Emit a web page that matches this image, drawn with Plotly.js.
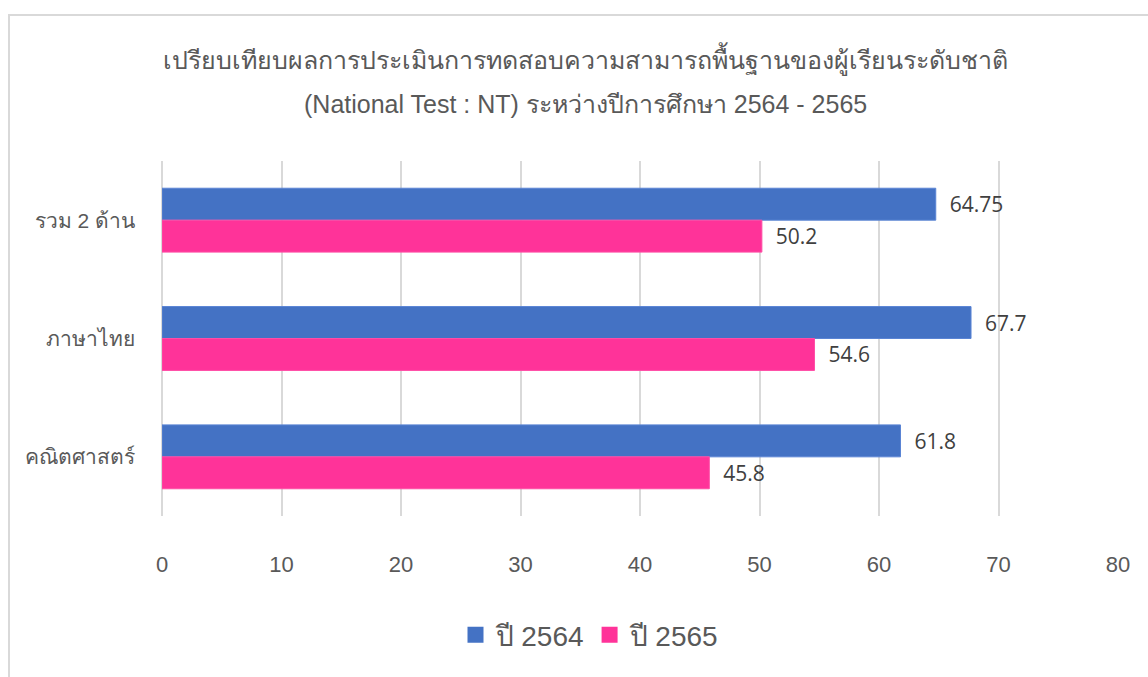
<!DOCTYPE html>
<html>
<head>
<meta charset="utf-8">
<script src="https://cdn.plot.ly/plotly-3.0.1.min.js"></script>
<style>html,body{margin:0;padding:0;background:#fff;}#chart{width:1148px;height:677px;}</style>
</head>
<body>
<div id="chart"></div>
<script>
const categories = ['รวม 2 ด้าน', 'ภาษาไทย', 'คณิตศาสตร์'];
const seriesNames = ['ปี 2564', 'ปี 2565'];
const seriesColors = ['#4472C4', '#FF3399'];
const values2564 = [64.75, 67.7, 61.8];
const values2565 = [50.2, 54.6, 45.8];
const xTicks = [0, 10, 20, 30, 40, 50, 60, 70, 80];
const titleLine1 = 'เปรียบเทียบผลการประเมินการทดสอบความสามารถพื้นฐานของผู้เรียนระดับชาติ';
const titleLine2 = '(National Test : NT) ระหว่างปีการศึกษา 2564 - 2565';

const labelFont = {family: 'Open Sans, Noto Sans, sans-serif', size: 21, color: '#404040'};

const traces = [
  {type: 'bar', orientation: 'h', name: seriesNames[0], y: categories, x: values2564,
   marker: {color: seriesColors[0], line: {color: '#5a84d4', width: 1}},
   text: values2564.map(v => '\u00a0\u00a0' + v), textposition: 'outside', cliponaxis: false,
   textfont: labelFont, hoverinfo: 'x+name', showlegend: false},
  {type: 'bar', orientation: 'h', name: seriesNames[1], y: categories, x: values2565,
   marker: {color: seriesColors[1], line: {color: '#ff4da6', width: 1}},
   text: values2565.map(v => '\u00a0\u00a0' + v), textposition: 'outside', cliponaxis: false,
   textfont: labelFont, hoverinfo: 'x+name', showlegend: false},
  // legend-only entries with larger square swatches
  {type: 'scatter', mode: 'markers', name: seriesNames[0], x: [null], y: [null],
   marker: {symbol: 'square', size: 24, color: seriesColors[0]}, hoverinfo: 'skip'},
  {type: 'scatter', mode: 'markers', name: seriesNames[1], x: [null], y: [null],
   marker: {symbol: 'square', size: 24, color: seriesColors[1]}, hoverinfo: 'skip'}
];

const L = 162, R = 30, T = 161, B = 161, W = 1148, H = 677;
const pw = W - L - R, ph = H - T - B;
const px = p => (p - L) / pw;
const py = p => (H - B - p) / ph;

const layout = {
  width: W, height: H,
  margin: {l: L, r: R, t: T, b: B, pad: 0},
  paper_bgcolor: '#ffffff', plot_bgcolor: '#ffffff',
  font: {family: 'Liberation Sans, Arial, sans-serif', color: '#595959'},
  title: {text: titleLine1, font: {size: 25, color: '#595959'},
          x: 585 / W, xanchor: 'center', xref: 'container',
          y: 1 - 60 / H, yanchor: 'middle', yref: 'container'},
  annotations: [
    {text: titleLine2, xref: 'paper', yref: 'paper', x: px(585), y: py(104),
     xanchor: 'center', yanchor: 'middle', showarrow: false,
     font: {size: 25, color: '#595959'}}
  ],
  barmode: 'group', bargap: 0.46, bargroupgap: 0,
  showlegend: true,
  legend: {orientation: 'h', x: px(590), xanchor: 'center', y: py(635), yanchor: 'middle',
           font: {size: 28, color: '#595959'}, traceorder: 'normal', itemsizing: 'trace'},
  xaxis: {range: [0, 80], tickvals: xTicks, ticktext: xTicks.map(String),
          showgrid: true, gridcolor: '#d9d9d9', gridwidth: 2,
          zeroline: true, zerolinecolor: '#d9d9d9', zerolinewidth: 2,
          showline: false, ticks: '', ticklabelstandoff: 33,
          tickfont: {size: 22, color: '#595959'}, fixedrange: true},
  yaxis: {type: 'category', categoryorder: 'array', categoryarray: categories,
          autorange: 'reversed', showgrid: false, zeroline: false, showline: false,
          ticks: '', ticklabelstandoff: 26,
          tickfont: {size: 21, color: '#595959'}, fixedrange: true},
  shapes: [
    {type: 'line', xref: 'paper', yref: 'paper', x0: px(8), x1: px(1148), y0: py(15), y1: py(15),
     line: {color: '#d9d9d9', width: 2}},
    {type: 'line', xref: 'paper', yref: 'paper', x0: px(9), x1: px(9), y0: py(14), y1: py(677),
     line: {color: '#d9d9d9', width: 2}}
  ]
};

Plotly.newPlot('chart', traces, layout, {displayModeBar: false});
</script>
</body>
</html>
